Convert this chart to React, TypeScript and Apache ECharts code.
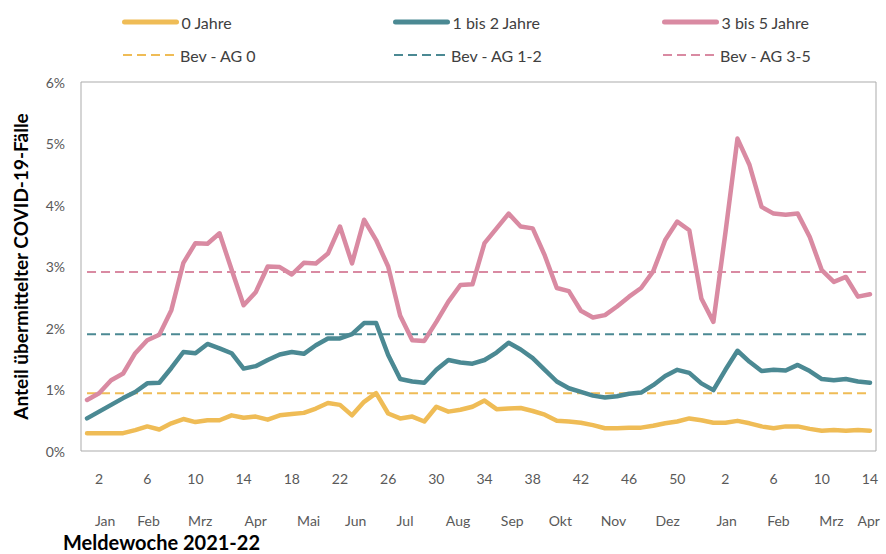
import { useEffect, useRef } from "react";
import * as echarts from "echarts";

// Meldewoche 1..52 (2021) and 1..14 (2022)
const weeks = [
  "1", "2", "3", "4", "5", "6", "7", "8", "9", "10", "11", "12", "13", "14", "15", "16", "17", "18", "19", "20",
  "21", "22", "23", "24", "25", "26", "27", "28", "29", "30", "31", "32", "33", "34", "35", "36", "37", "38", "39", "40",
  "41", "42", "43", "44", "45", "46", "47", "48", "49", "50", "51", "52",
  "1", "2", "3", "4", "5", "6", "7", "8", "9", "10", "11", "12", "13", "14",
];

// Anteil übermittelter COVID-19-Fälle (%)
const age0 = [
  0.29, 0.29, 0.29, 0.29, 0.34, 0.40, 0.35, 0.45, 0.52, 0.47, 0.50, 0.50, 0.58, 0.54, 0.56, 0.51, 0.58,
  0.60, 0.62, 0.69, 0.78, 0.75, 0.58, 0.80, 0.94, 0.61, 0.53, 0.56, 0.48, 0.72, 0.64, 0.67, 0.72,
  0.82, 0.68, 0.69, 0.70, 0.65, 0.59, 0.49, 0.48, 0.46, 0.42, 0.37, 0.37, 0.38, 0.38, 0.41, 0.45,
  0.48, 0.53, 0.50, 0.46, 0.46, 0.49, 0.45, 0.40, 0.37, 0.40, 0.40, 0.36, 0.33, 0.34, 0.33, 0.34, 0.33,
];
const age1to2 = [
  0.53, 0.64, 0.75, 0.86, 0.96, 1.10, 1.11, 1.35, 1.61, 1.59, 1.74, 1.67, 1.59, 1.34, 1.38, 1.48, 1.57,
  1.61, 1.58, 1.72, 1.83, 1.83, 1.90, 2.08, 2.08, 1.56, 1.17, 1.13, 1.11, 1.32, 1.48, 1.44, 1.42,
  1.48, 1.60, 1.76, 1.65, 1.51, 1.32, 1.13, 1.02, 0.96, 0.90, 0.87, 0.89, 0.93, 0.95, 1.07, 1.22,
  1.32, 1.27, 1.10, 0.99, 1.32, 1.63, 1.45, 1.30, 1.32, 1.31, 1.40, 1.30, 1.17, 1.15, 1.17, 1.13, 1.11,
];
const age3to5 = [
  0.83, 0.94, 1.15, 1.26, 1.59, 1.80, 1.89, 2.29, 3.06, 3.38, 3.37, 3.54, 2.95, 2.37, 2.58, 3.00, 2.99,
  2.87, 3.06, 3.05, 3.21, 3.65, 3.05, 3.76, 3.43, 3.00, 2.20, 1.80, 1.79, 2.10, 2.43, 2.70, 2.71,
  3.38, 3.62, 3.86, 3.65, 3.62, 3.18, 2.65, 2.60, 2.28, 2.17, 2.21, 2.35, 2.51, 2.65, 2.92, 3.43,
  3.73, 3.59, 2.48, 2.10, 3.55, 5.08, 4.65, 3.97, 3.86, 3.84, 3.86, 3.48, 2.94, 2.75, 2.83, 2.51, 2.55,
];

// Bevölkerungsanteil der Altersgruppen (%)
const popAG0 = 0.94;
const popAG1to2 = 1.9;
const popAG3to5 = 2.91;

// Month labels and their position on the week axis (index units)
const monthNames = ["Jan", "Feb", "Mrz", "Apr", "Mai", "Jun", "Jul", "Aug", "Sep", "Okt", "Nov", "Dez", "Jan", "Feb", "Mrz", "Apr"];
const monthPos = [1.5, 5.1, 9.4, 14.0, 18.4, 22.3, 26.4, 30.8, 35.3, 39.3, 43.7, 48.2, 53.1, 57.4, 61.8, 64.9];

const yTicks = { min: 0, max: 6, interval: 1 };

const C_YEL = "#EFBC56";
const C_TEAL = "#4B8993";
const C_PINK = "#D98AA2";
const FONT = "Lato";

export default function App() {
  const ref = useRef<HTMLDivElement>(null);
  useEffect(() => {
    const chart = echarts.init(ref.current!, null, { renderer: "svg" });
    const last = weeks.length - 1;
    const refLine = (name: string, v: number, color: string) => ({
      name,
      type: "line",
      data: [[0, v], [last, v]],
      symbol: "none",
      silent: true,
      z: 1,
      lineStyle: { color, width: 2, type: [9, 5] },
      itemStyle: { color },
    });
    const mainLine = (name: string, data: number[], color: string) => ({
      name,
      type: "line",
      data,
      symbol: "none",
      z: 3,
      lineStyle: { color, width: 4.5, cap: "round", join: "round" },
      itemStyle: { color },
    });
    const legendBase = {
      itemWidth: 52,
      itemHeight: 10,
      padding: 0,
      selectedMode: false,
      itemStyle: { opacity: 0 },
      textStyle: { fontFamily: FONT, fontSize: 16, color: "#404040" },
    };
    const monthMap = new Map<number, string>();
    monthPos.forEach((p, i) => monthMap.set(p, monthNames[i]));

    chart.setOption({
      animation: false,
      backgroundColor: "#ffffff",
      textStyle: { fontFamily: FONT },
      grid: { left: 81, right: 10, top: 82, bottom: 103, show: true, borderColor: "#ABABAB", borderWidth: 1 },
      legend: [
        { ...legendBase, data: ["0 Jahre"], left: 122, top: 14, lineStyle: { width: 5 } },
        { ...legendBase, data: ["1 bis 2 Jahre"], left: 393, top: 14, lineStyle: { width: 5 } },
        { ...legendBase, data: ["3 bis 5 Jahre"], left: 662, top: 14, lineStyle: { width: 5 } },
        { ...legendBase, data: ["Bev - AG 0"], left: 122, top: 47, lineStyle: { width: 2 } },
        { ...legendBase, data: ["Bev - AG 1-2"], left: 393, top: 47, lineStyle: { width: 2 } },
        { ...legendBase, data: ["Bev - AG 3-5"], left: 662, top: 47, lineStyle: { width: 2 } },
      ],
      xAxis: [
        {
          type: "category",
          data: weeks,
          boundaryGap: true,
          axisLine: { show: false },
          axisTick: { show: false },
          splitLine: { show: false },
          axisLabel: {
            interval: (idx: number) => (idx - 1) % 4 === 0,
            color: "#595959",
            fontSize: 14,
            fontFamily: FONT,
            margin: 20,
          },
        },
        {
          type: "value",
          position: "bottom",
          min: -0.5,
          max: weeks.length - 0.5,
          offset: 56,
          axisLine: { show: false },
          axisTick: { show: false },
          splitLine: { show: false },
          axisLabel: {
            customValues: monthPos,
            formatter: (v: number) => monthMap.get(v) ?? "",
            color: "#595959",
            fontSize: 14,
            fontFamily: FONT,
            margin: 6,
            hideOverlap: false,
            showMinLabel: true,
            showMaxLabel: true,
          },
        },
      ],
      yAxis: {
        type: "value",
        ...yTicks,
        axisLine: { show: false },
        axisTick: { show: false },
        splitLine: { show: false },
        axisLabel: { formatter: "{value}%", color: "#595959", fontSize: 14, fontFamily: FONT, margin: 16 },
        name: "Anteil übermittelter COVID-19-Fälle",
        nameLocation: "middle",
        nameGap: 51,
        nameTextStyle: { fontWeight: "bold", fontSize: 19, color: "#000000", fontFamily: FONT },
      },
      graphic: [
        {
          type: "text",
          left: 63,
          top: 532,
          style: { text: "Meldewoche 2021-22", font: `bold 20px ${FONT}`, fill: "#000000" },
        },
      ],
      series: [
        refLine("Bev - AG 0", popAG0, C_YEL),
        refLine("Bev - AG 1-2", popAG1to2, C_TEAL),
        refLine("Bev - AG 3-5", popAG3to5, C_PINK),
        mainLine("0 Jahre", age0, C_YEL),
        mainLine("1 bis 2 Jahre", age1to2, C_TEAL),
        mainLine("3 bis 5 Jahre", age3to5, C_PINK),
      ],
    });
    return () => chart.dispose();
  }, []);
  return <div ref={ref} style={{ position: "fixed", left: 0, top: 0, width: 886, height: 554 }} />;
}
